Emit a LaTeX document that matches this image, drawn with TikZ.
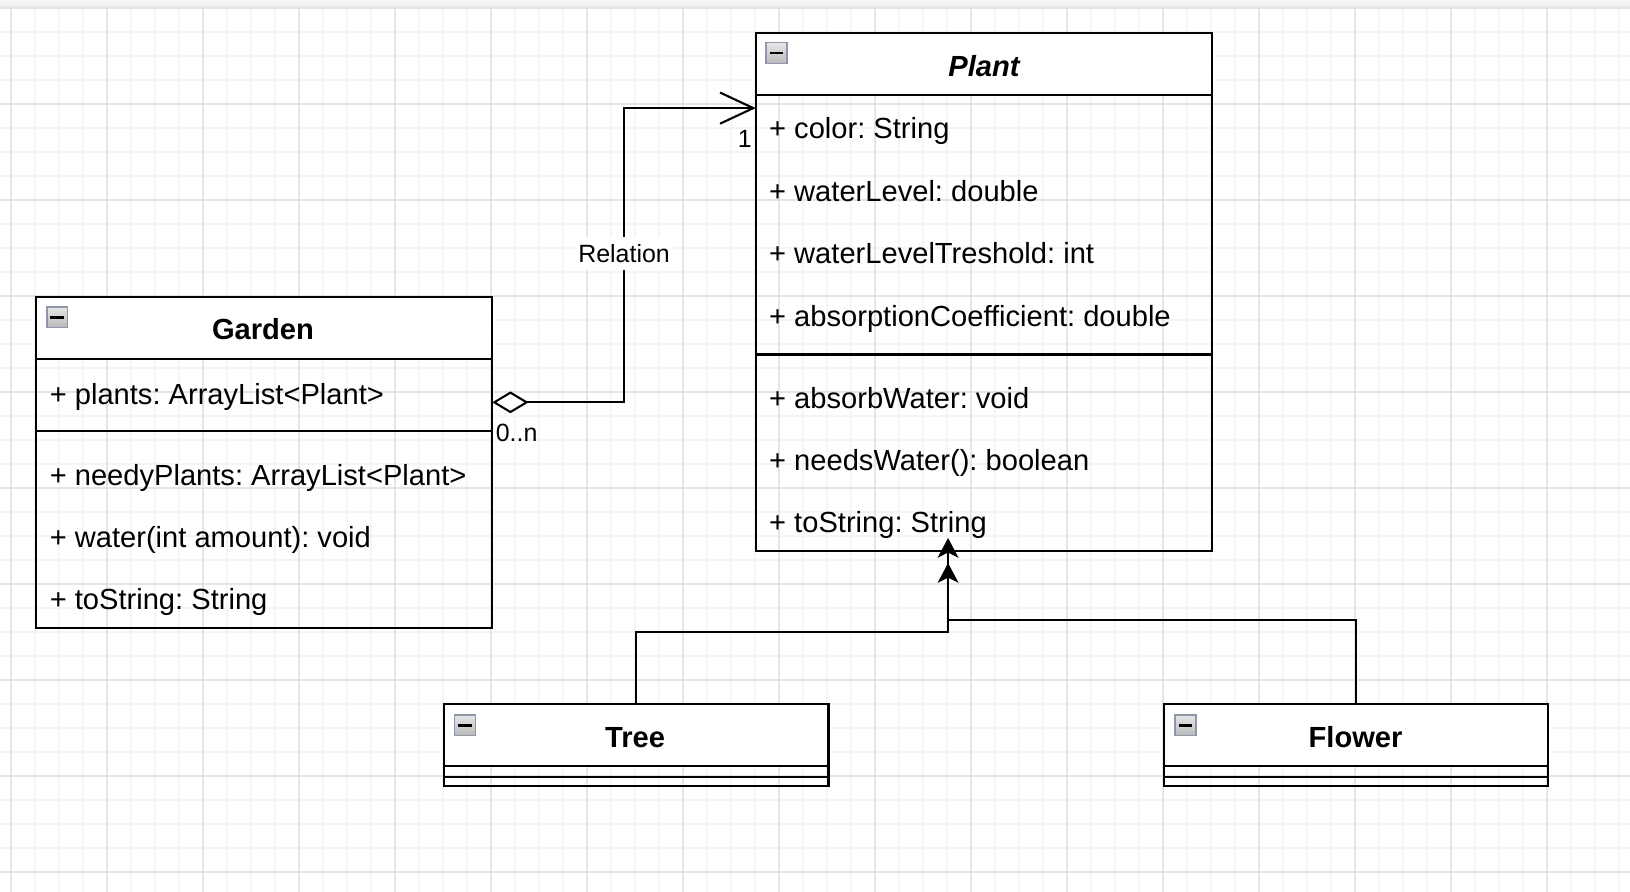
\documentclass[tikz,border=0pt]{standalone}
\usepackage{fontspec}
\setmainfont{Liberation Sans}
\usetikzlibrary{arrows.meta,calc}
\definecolor{gridminor}{HTML}{F5F5F5}
\definecolor{gridmajor}{HTML}{E5E5E5}
\definecolor{iconborder}{HTML}{8E97A8}
\definecolor{icontop}{HTML}{E6E6E6}
\definecolor{iconbot}{HTML}{BABABA}
\frenchspacing
\begin{document}
\frenchspacing
\begin{tikzpicture}[x=0.5pt,y=-0.5pt,
  umlbox/.style={draw=black, line width=1pt, inner sep=0pt, outer sep=0pt, anchor=north west},
  headbox/.style={umlbox, fill=white},
  classtitle/.style={font=\fontsize{14pt}{16pt}\selectfont\bfseries, anchor=base, inner sep=0pt},
  member/.style={font=\fontsize{14pt}{16pt}\selectfont, anchor=base west, inner sep=0pt},
  lbl/.style={font=\fontsize{12pt}{14pt}\selectfont, inner sep=0pt},
  conn/.style={draw=black, line width=1pt},
  sep/.style={draw=black, line width=1pt},
  minusicon/.style={minimum size=10pt, inner sep=0pt, draw=iconborder, line width=0.8pt,
    top color=icontop, bottom color=iconbot,
    path picture={\fill[black] ($(path picture bounding box.center)+(-3.3pt,-0.7pt)$) rectangle ++(6.6pt,1.4pt);}},
  inh/.style={conn, -{Stealth[length=9.5pt,width=10pt,inset=2.5pt]}}
]
\useasboundingbox (0,0) rectangle (1568,858);
% background grid
\fill[white] (0,0) rectangle (1568,858);
\foreach \i in {0,...,68} \draw[gridminor, line width=0.6pt] ({-12.49+23.0875*\i},0) -- ++(0,858);
\foreach \j in {0,...,37} \draw[gridminor, line width=0.6pt] (0,{7.7+23.0875*\j}) -- ++(1568,0);
\foreach \i in {0,...,17} \draw[gridmajor, line width=0.7pt] ({10.6+92.35*\i},0) -- ++(0,858);
\foreach \j in {0,...,9} \draw[gridmajor, line width=0.7pt] (0,{7.7+92.35*\j}) -- ++(1568,0);
\shade[top color=gray!6, bottom color=gray!16] (0,0) rectangle (1568,6.5);

% Garden
\node[headbox, minimum width=219.5pt, minimum height=30pt] (gardenhead) at (34.5,285.5) {};
\node[umlbox, minimum width=219.5pt, minimum height=159.25pt] (garden) at (34.5,285.5) {};
\draw[sep] ($(garden.north west)+(0,129)$) -- ($(garden.north east)+(0,129)$);
\node[minusicon] (gardenicon) at (55,305) {};
\node[classtitle] (gardentitle) at (253,327) {Garden};
\node[member] (g1) at (47.5,388.7) {+ plants: ArrayList<Plant>};
\node[member] (g2) at (47.5,466.7) {+ needyPlants: ArrayList<Plant>};
\node[member] (g3) at (47.5,526.7) {+ water(int amount): void};
\node[member] (g4) at (47.5,586.7) {+ toString: String};

% Plant
\node[headbox, minimum width=219.5pt, minimum height=30pt] (planthead) at (727,31.5) {};
\node[umlbox, minimum width=219.5pt, minimum height=249.25pt] (plant) at (727,31.5) {};
\draw[sep] ($(plant.north west)+(0,309.5)$) -- ($(plant.north east)+(0,309.5)$);
\node[minusicon] (planticon) at (747,51) {};
\node[classtitle, font=\fontsize{14pt}{16pt}\selectfont\bfseries\itshape] (planttitle) at (946.5,73.5) {Plant};
\node[member] (p1) at (739.5,133.7) {+ color: String};
\node[member] (p2) at (739.5,193.7) {+ waterLevel: double};
\node[member] (p3) at (739.5,253.7) {+ waterLevelTreshold: int};
\node[member] (p4) at (739.5,313.7) {+ absorptionCoefficient: double};
\node[member] (p5) at (739.5,392.7) {+ absorbWater: void};
\node[member] (p6) at (739.5,452.7) {+ needsWater(): boolean};
\node[member] (p7) at (739.5,512.7) {+ toString: String};

% Tree
\node[headbox, minimum width=185pt, minimum height=29.75pt] (treehead) at (427,677.5) {};
\node[umlbox, minimum width=185pt, minimum height=39.5pt] (tree) at (427,677.5) {};
\draw[sep] ($(tree.north west)+(0,69.5)$) -- ($(tree.north east)+(0,69.5)$);
\node[minusicon] (treeicon) at (447.3,697.5) {};
\node[classtitle] (treetitle) at (611,719) {Tree};

% Flower
\node[headbox, minimum width=184.75pt, minimum height=29.75pt] (flowerhead) at (1120,677.5) {};
\node[umlbox, minimum width=184.75pt, minimum height=39.5pt] (flower) at (1120,677.5) {};
\draw[sep] ($(flower.north west)+(0,69.5)$) -- ($(flower.north east)+(0,69.5)$);
\node[minusicon] (flowericon) at (1140.3,697.5) {};
\node[classtitle] (flowertitle) at (1304,719) {Flower};

% aggregation Garden -> Plant
\coordinate (gaggr) at ($(garden.north east)+(0,101.5)$);
\coordinate (pin) at ($(plant.north west)+(0,72.5)$);
\coordinate (rtop) at ($(pin)+(-126.7,0)$);
\draw[conn, {Diamond[length=17.5pt,width=10.5pt,fill=white]}-{Straight Barb[length=16pt,width=15pt]}] (gaggr) -| (rtop) -- (pin);
\node[lbl, fill=white, inner xsep=2pt, inner ysep=3.6pt, anchor=base] (rel) at (600.3,252.7) {Relation};
\node[lbl, anchor=base west] (mult0) at (476.5,425) {0..n};
\node[lbl, anchor=base east] (mult1) at (723.5,142) {1};

% generalisations
\coordinate (tipF) at ($(plant.south)+(-34.5,-12.5)$);
\coordinate (tipT) at ($(plant.south)+(-34.5,11.6)$);
\coordinate (jF) at ($(tipF)+(0,78.5)$);
\coordinate (jT) at ($(tipT)+(0,66.4)$);
\draw[inh] (flower.north) |- (jF) -- (tipF);
\draw[inh] (tree.north) |- (jT) -- (tipT);
\end{tikzpicture}
\end{document}
